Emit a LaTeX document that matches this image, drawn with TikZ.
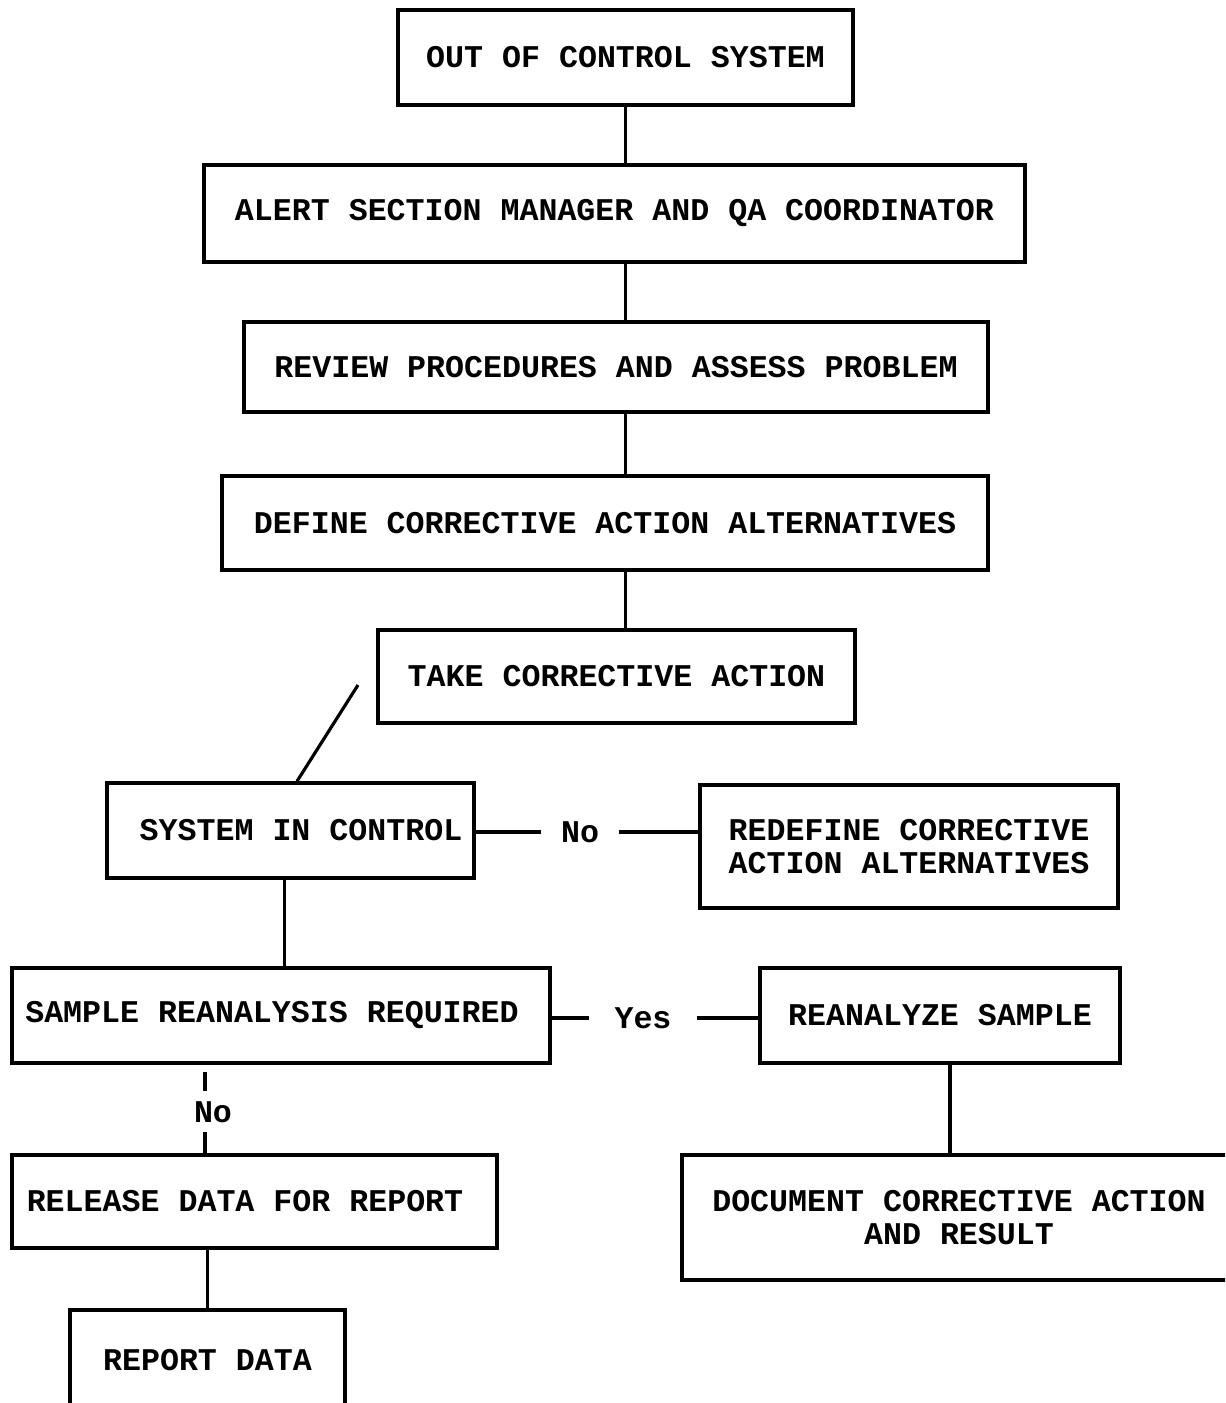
\documentclass[tikz,border=0pt]{standalone}
\usepackage{fontspec}
\setmonofont{Liberation Mono}
\begin{document}
\begin{tikzpicture}[x=0.02cm,y=-0.02cm,
  box/.style={draw, line width=2pt, inner sep=0pt, align=center,
    font=\fontsize{18}{18.6}\selectfont\ttfamily\bfseries},
  lbl/.style={inner ysep=0pt, font=\fontsize{18}{18.6}\selectfont\ttfamily\bfseries},
  conn/.style={line width=1.8pt}]
\path[use as bounding box, clip] (0,0) rectangle (1225,1403);

\node[box, minimum width=9.1cm,  minimum height=1.9cm]  (b1) at (625.5,57.5) {OUT OF CONTROL SYSTEM};
\node[box, minimum width=16.42cm, minimum height=1.94cm] (b2) at (614.5,213.5) {ALERT SECTION MANAGER AND QA COORDINATOR};
\node[box, minimum width=14.88cm, minimum height=1.8cm]  (b3) at (616,367) {REVIEW PROCEDURES AND ASSESS PROBLEM};
\node[box, minimum width=15.32cm, minimum height=1.88cm] (b4) at (605,523) {DEFINE CORRECTIVE ACTION ALTERNATIVES};
\node[box, minimum width=9.54cm,  minimum height=1.86cm] (b5) at (616.5,676.5) {TAKE CORRECTIVE ACTION};
\node[box, minimum width=7.34cm,  minimum height=1.9cm]  (b6) at (290.5,830.5) {\hspace*{0.42cm}SYSTEM IN CONTROL};
\node[box, minimum width=8.36cm,  minimum height=2.46cm] (b7) at (909,846.5) {REDEFINE CORRECTIVE\\ACTION ALTERNATIVES};
\node[box, minimum width=10.76cm, minimum height=1.9cm]  (b8) at (281,1015.5) {SAMPLE REANALYSIS REQUIRED\hspace*{0.36cm}};
\node[box, minimum width=7.2cm,   minimum height=1.9cm]  (b9) at (940,1015.5) {REANALYZE SAMPLE};
\node[box, minimum width=11.08cm, minimum height=2.5cm]  (b10) at (959,1217.5) {DOCUMENT CORRECTIVE ACTION\\AND RESULT};
\node[box, minimum width=9.7cm,   minimum height=1.86cm] (b11) at (254.5,1201.5) {RELEASE DATA FOR REPORT\hspace*{0.38cm}};
\node[box, minimum width=5.5cm,   minimum height=2.0cm]  (b12) at (207.5,1360) {REPORT DATA};

% vertical main chain
\draw[conn] (b1.south) -- (b1.south |- b2.north);
\draw[conn] (b1.south |- b2.south) -- (b1.south |- b3.north);
\draw[conn] (b1.south |- b3.south) -- (b1.south |- b4.north);
\draw[conn] (b1.south |- b4.south) -- (b1.south |- b5.north);

% diagonal to system in control
\coordinate (d1) at (358,685);
\draw[conn] (d1) -- ([xshift=0.13cm]b6.north);

% No branch
\node[lbl, inner xsep=0.4cm] (lno) at (580,832) {No};
\draw[conn] (b6.east |- lno.west) -- (lno.west);
\draw[conn] (lno.east) -- (lno.east -| b7.west);

% system in control -> sample reanalysis
\draw[conn] ([xshift=-0.12cm]b6.south) -- ([xshift=-0.12cm]b6.south |- b8.north);

% Yes branch
\node[lbl, inner xsep=0.5cm] (lyes) at (643,1018) {Yes};
\draw[conn] (b8.east |- lyes.west) -- (lyes.west);
\draw[conn] (lyes.east) -- (lyes.east -| b9.west);

% reanalyze -> document
\draw[conn] ([xshift=0.2cm]b9.south) -- ([xshift=0.2cm]b9.south |- b10.north);

% No down to release
\coordinate (c1) at (205,1072);
\coordinate (c2) at (205,1091);
\coordinate (c3) at (205,1132);
\node[lbl] (lno2) at (213,1112) {No};
\draw[conn] (c1) -- (c2);
\draw[conn] (c3) -- (c3 |- b11.north);

% release -> report
\draw[conn] (b12.north |- b11.south) -- (b12.north);
\end{tikzpicture}
\end{document}
